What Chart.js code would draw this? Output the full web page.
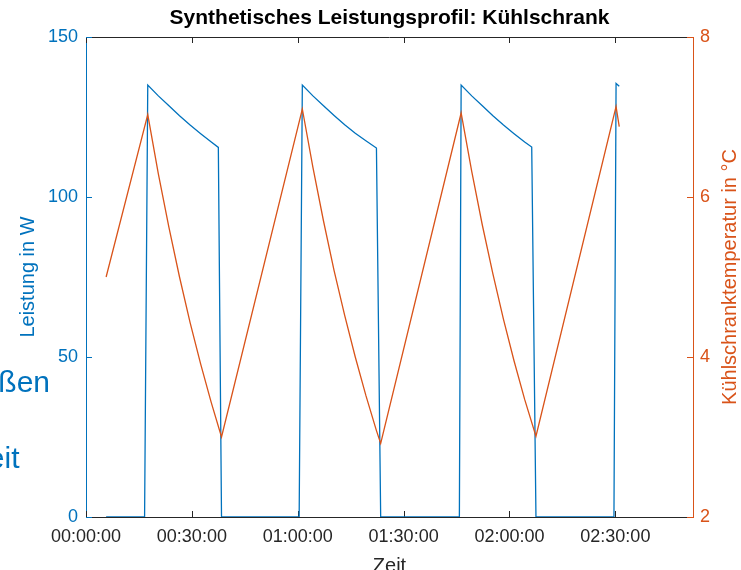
<!DOCTYPE html>
<html>
<head>
<meta charset="utf-8">
<script src="https://cdn.jsdelivr.net/npm/chart.js@4/dist/chart.umd.min.js"></script>
<style>
  html, body { margin: 0; padding: 0; background: #ffffff; }
  #wrap { width: 741px; height: 570px; position: relative; overflow: hidden; }
</style>
</head>
<body>
<div id="wrap"><canvas id="chart" width="741" height="570"></canvas></div>
<script>
// Time in minutes since start, compressor power in W
const powerTime = [5.7, 16.6,
                   17.5, 20.5, 23.5, 26.5, 29.5, 32.5, 35.5, 37.5, 38.4,
                   60.4,
                   61.3, 64.3, 67.3, 70.3, 73.3, 76.3, 79.3, 82.3, 83.5,
                   105.8,
                   106.3, 109.3, 112.3, 115.3, 118.3, 121.3, 124.3, 126.3, 127.5,
                   149.6, 150.2, 151.1];
const powerWatt = [0, 0,
                   135, 131.6, 128.5, 125.4, 122.5, 119.8, 117.2, 115.5, 0,
                   0,
                   135, 131.6, 128.5, 125.5, 122.6, 119.9, 117.6, 115.3, 0,
                   0,
                   135, 131.6, 128.5, 125.4, 122.5, 119.8, 117.2, 115.6, 0,
                   0, 135.5, 134.6];

// Time in minutes since start, fridge temperature in °C
const tempTime = [5.7,
                  17.5, 20.5, 23.5, 26.5, 29.5, 32.5, 35.5, 38.4,
                  61.3, 64.3, 67.3, 70.3, 73.3, 76.3, 79.3, 82.3, 83.5,
                  106.3, 109.3, 112.3, 115.3, 118.3, 121.3, 124.3, 127.5,
                  150.2, 151.1];
const tempCelsius = [5.0,
                     7.03, 6.29, 5.62, 5.00, 4.43, 3.91, 3.43, 3.00,
                     7.10, 6.37, 5.70, 5.08, 4.52, 4.00, 3.52, 3.08, 2.92,
                     7.05, 6.32, 5.65, 5.04, 4.47, 3.95, 3.47, 3.01,
                     7.13, 6.88];

// Axis ticks
const timeTicks = [0, 30, 60, 90, 120, 150];
const powerTicks = [0, 50, 100, 150];
const tempTicks = [2, 4, 6, 8];

const BLUE = '#0072BD';
const ORANGE = '#D95319';
const DARK = '#262626';
const FONT = '"Liberation Sans", Arial, Helvetica, sans-serif';

function hms(minutes) {
  const total = Math.round(minutes * 60);
  const h = Math.floor(total / 3600);
  const m = Math.floor((total % 3600) / 60);
  const s = total % 60;
  const p = n => String(n).padStart(2, '0');
  return p(h) + ':' + p(m) + ':' + p(s);
}

function toPoints(xs, ys) {
  return xs.map((x, i) => ({ x: x, y: ys[i] }));
}

// Box outline on top plus inward tick marks on all four sides
const frameTicks = {
  id: 'frameTicks',
  beforeDatasetsDraw(chart) {
    const { ctx, chartArea: a, scales } = chart;
    const len = 6;
    ctx.save();
    ctx.lineWidth = 1;
    ctx.strokeStyle = DARK;
    ctx.beginPath();
    ctx.moveTo(a.left, a.top + 0.5);
    ctx.lineTo(a.right, a.top + 0.5);
    ctx.stroke();
    ctx.beginPath();
    timeTicks.forEach(v => {
      const x = Math.round(scales.x.getPixelForValue(v)) + 0.5;
      ctx.moveTo(x, a.bottom);
      ctx.lineTo(x, a.bottom - len);
      ctx.moveTo(x, a.top);
      ctx.lineTo(x, a.top + len);
    });
    ctx.stroke();
    ctx.strokeStyle = BLUE;
    ctx.beginPath();
    powerTicks.forEach(v => {
      const y = Math.round(scales.y.getPixelForValue(v)) + 0.5;
      ctx.moveTo(a.left, y);
      ctx.lineTo(a.left + len, y);
    });
    ctx.stroke();
    ctx.strokeStyle = ORANGE;
    ctx.beginPath();
    tempTicks.forEach(v => {
      const y = Math.round(scales.y1.getPixelForValue(v)) + 0.5;
      ctx.moveTo(a.right, y);
      ctx.lineTo(a.right - len, y);
    });
    ctx.stroke();
    ctx.restore();
  }
};

// Plot title centred over the axes, right axis title (reads bottom to top)
// and leftover annotation text at the left margin
const extraText = {
  id: 'extraText',
  afterDraw(chart) {
    const { ctx, chartArea: a } = chart;
    ctx.save();
    ctx.fillStyle = '#000000';
    ctx.font = 'bold 21px ' + FONT;
    ctx.textAlign = 'center';
    ctx.textBaseline = 'middle';
    ctx.fillText('Synthetisches Leistungsprofil: Kühlschrank', (a.left + a.right) / 2, 18);
    ctx.restore();

    ctx.save();
    ctx.fillStyle = ORANGE;
    ctx.font = '20px ' + FONT;
    ctx.textAlign = 'center';
    ctx.textBaseline = 'middle';
    ctx.translate(730, (a.top + a.bottom) / 2);
    ctx.rotate(-Math.PI / 2);
    ctx.fillText('Kühlschranktemperatur in °C', 0, 0);
    ctx.restore();

    ctx.save();
    ctx.fillStyle = BLUE;
    ctx.font = '30px ' + FONT;
    ctx.textAlign = 'right';
    ctx.textBaseline = 'alphabetic';
    ctx.fillText('Größen', 50, 392);
    ctx.fillText('Zeit', 19.5, 468);
    ctx.restore();
  }
};

new Chart(document.getElementById('chart'), {
  type: 'line',
  data: {
    datasets: [
      {
        label: 'Leistung',
        data: toPoints(powerTime, powerWatt),
        yAxisID: 'y',
        borderColor: BLUE,
        borderWidth: 1.3,
        pointRadius: 0,
        tension: 0,
        fill: false,
        order: 2
      },
      {
        label: 'Kühlschranktemperatur',
        data: toPoints(tempTime, tempCelsius),
        yAxisID: 'y1',
        borderColor: ORANGE,
        borderWidth: 1.3,
        pointRadius: 0,
        tension: 0,
        fill: false,
        order: 1
      }
    ]
  },
  options: {
    responsive: false,
    animation: false,
    devicePixelRatio: 1,
    layout: { padding: { top: 37, left: 0, right: 0, bottom: 0 } },
    plugins: {
      legend: { display: false },
      tooltip: { enabled: false },
      title: { display: false }
    },
    scales: {
      x: {
        type: 'linear',
        position: 'bottom',
        min: 0,
        max: 172,
        afterBuildTicks: s => { s.ticks = timeTicks.map(v => ({ value: v })); },
        afterFit: s => { s.height = 53; },
        grid: { display: false, drawTicks: false },
        border: { display: true, color: DARK, width: 1 },
        ticks: {
          color: DARK,
          font: { family: FONT, size: 18 },
          padding: 9,
          maxRotation: 0,
          autoSkip: false,
          callback: v => hms(v)
        },
        title: {
          display: true,
          text: 'Zeit',
          color: DARK,
          font: { family: FONT, size: 20, lineHeight: 1 },
          padding: { top: 0, bottom: -6 }
        }
      },
      y: {
        type: 'linear',
        position: 'left',
        min: 0,
        max: 150,
        afterBuildTicks: s => { s.ticks = powerTicks.map(v => ({ value: v })); },
        afterFit: s => { s.width = 86; },
        grid: { display: false, drawTicks: false },
        border: { display: true, color: BLUE, width: 1 },
        ticks: {
          color: BLUE,
          font: { family: FONT, size: 18 },
          padding: 8
        },
        title: {
          display: true,
          text: 'Leistung in W',
          color: BLUE,
          font: { family: FONT, size: 20, lineHeight: 1 },
          padding: { top: 18, bottom: 0 }
        }
      },
      y1: {
        type: 'linear',
        position: 'right',
        min: 2,
        max: 8,
        afterBuildTicks: s => { s.ticks = tempTicks.map(v => ({ value: v })); },
        afterFit: s => { s.width = 48; },
        grid: { display: false, drawTicks: false },
        border: { display: true, color: ORANGE, width: 1 },
        ticks: {
          color: ORANGE,
          font: { family: FONT, size: 18 },
          padding: 7
        },
        title: { display: false }
      }
    }
  },
  plugins: [frameTicks, extraText]
});
</script>
</body>
</html>
